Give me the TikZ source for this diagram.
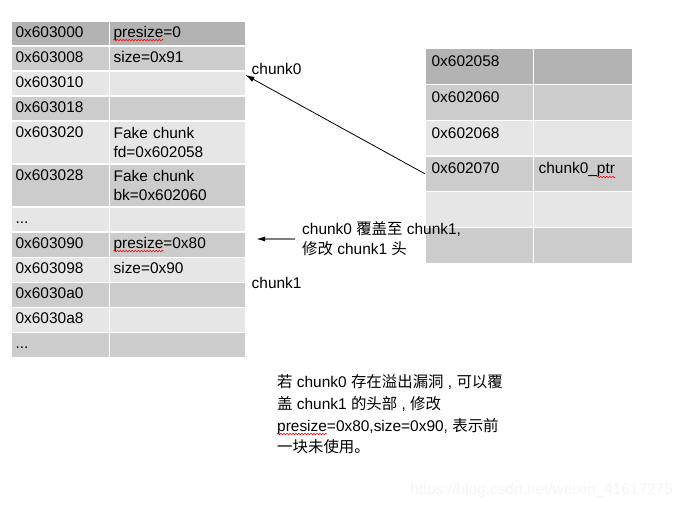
\documentclass[tikz,border=0pt]{standalone}
\usepackage{fontspec}
\setmainfont{Liberation Sans}
\newfontfamily\cjk{Noto Sans CJK SC}
\usepackage{xcolor}
\usetikzlibrary{arrows.meta,positioning,decorations.pathmorphing}

\definecolor{rowdark}{HTML}{B3B3B3}
\definecolor{rowmid}{HTML}{CCCCCC}
\definecolor{rowlight}{HTML}{E6E6E6}
\definecolor{linegray}{HTML}{7F7F7F}

% red spell-check wave under a word
\newcommand{\redwave}[1]{\tikz[baseline=(wv.base)]{\node[inner sep=0pt, anchor=base, text width=, text height=, text depth=,
      minimum width=0pt, minimum height=0pt, draw=none, fill=none] (wv) {#1};
  \draw[overlay, red, line width=0.6bp, decorate, decoration={snake, amplitude=0.8bp, segment length=3bp}]
    ([yshift=-3bp]wv.base west) -- ([yshift=-3bp]wv.base east);}}

\begin{document}
\begin{tikzpicture}[x=1bp, y=-1bp,
    font=\fontsize{15.5}{19}\selectfont,
    cell/.style={rectangle, draw=white, line width=1.2bp, fill=rowmid, anchor=north west, inner xsep=4bp, inner ysep=0pt, align=left},
    addr/.style={cell, minimum width=98bp, minimum height=25bp, text width=90bp, text height=16bp, text depth=9bp},
    value/.style={cell, minimum width=136bp, minimum height=25bp, text width=128bp, text height=16bp, text depth=9bp},
    tall/.style={minimum height=43bp, text depth=27bp},
    twoline/.style={minimum height=43bp, text height=, text depth=},
    raddr/.style={cell, minimum width=108bp, inner xsep=6bp, text width=96bp, text height=18bp, text depth=17.7bp},
    rvalue/.style={cell, minimum width=99bp, inner xsep=5bp, text width=89bp, text height=18bp, text depth=17.7bp},
    pointer/.style={-{Latex[length=9bp, width=5.5bp]}, line width=0.8bp, black},
    overarrow/.style={-{Latex[length=9bp, width=5bp, color=black]}, line width=1.3bp, draw=linegray}
]
\useasboundingbox (0,0) rectangle (689,509);

% Heap chunks
\node[addr, fill=rowdark] (a3000) at (11,20.5) {0x603000};
\node[value, fill=rowdark] (v3000) at (109,20.5) {\redwave{presize}=0};
\node[addr] (a3008) at (11,45.5) {0x603008};
\node[value] (v3008) at (109,45.5) {size=0x91};
\node[addr, fill=rowlight] (a3010) at (11,70.5) {0x603010};
\node[value, fill=rowlight] (v3010) at (109,70.5) {};
\node[addr] (a3018) at (11,95.5) {0x603018};
\node[value] (v3018) at (109,95.5) {};
\node[addr, tall, fill=rowlight] (a3020) at (11,120.5) {0x603020};
\node[value, twoline, fill=rowlight] (v3020) at (109,120.5) {Fake chunk\\fd=0x602058};
\node[addr, tall] (a3028) at (11,163.5) {0x603028};
\node[value, twoline] (v3028) at (109,163.5) {Fake chunk\\bk=0x602060};
\node[addr, fill=rowlight] (agap) at (11,206.5) {...};
\node[value, fill=rowlight] (vgap) at (109,206.5) {};
\node[addr] (a3090) at (11,231.5) {0x603090};
\node[value] (v3090) at (109,231.5) {\redwave{presize}=0x80};
\node[addr, fill=rowlight] (a3098) at (11,256.5) {0x603098};
\node[value, fill=rowlight] (v3098) at (109,256.5) {size=0x90};
\node[addr] (a30a0) at (11,281.5) {0x6030a0};
\node[value] (v30a0) at (109,281.5) {};
\node[addr, fill=rowlight] (a30a8) at (11,306.5) {0x6030a8};
\node[value, fill=rowlight] (v30a8) at (109,306.5) {};
\node[addr] (aend) at (11,331.5) {...};
\node[value] (vend) at (109,331.5) {};

% Global pointers
\node[raddr, fill=rowdark] (p2058) at (425,48.3) {0x602058};
\node[rvalue, fill=rowdark] (q2058) at (533,48.3) {};
\node[raddr] (p2060) at (425,84) {0x602060};
\node[rvalue] (q2060) at (533,84) {};
\node[raddr, fill=rowlight] (p2068) at (425,119.7) {0x602068};
\node[rvalue, fill=rowlight] (q2068) at (533,119.7) {};
\node[raddr] (p2070) at (425,155.4) {0x602070};
\node[rvalue] (q2070) at (533,155.4) {chunk0\_\redwave{ptr}};
\node[raddr, fill=rowlight] (p2078) at (425,191.1) {};
\node[rvalue, fill=rowlight] (q2078) at (533,191.1) {};
\node[raddr] (p2080) at (425,226.8) {};
\node[rvalue] (q2080) at (533,226.8) {};

% Labels
\node[anchor=base west, inner sep=0pt] (chunk0) at (251.5,75) {chunk0};
\node[anchor=base west, inner sep=0pt] (chunk1) at (251.5,288) {chunk1};
\node[anchor=west, inner xsep=7bp, inner ysep=0pt, align=left, font=\fontsize{15.5}{20}\selectfont] (overlap) at (295,239)
    {chunk0 {\cjk 覆盖至} chunk1,\\{\cjk 修改} chunk1 {\cjk 头}};
\coordinate (overtip) at (256,239);
\node[anchor=north west, inner sep=0pt, align=left, font=\fontsize{15.5}{22}\selectfont] (remark) at (277,374)
    {{\cjk 若} chunk0 {\cjk 存在溢出漏洞} , {\cjk 可以覆}\\
     {\cjk 盖} chunk1 {\cjk 的头部} , {\cjk 修改}\\
     \redwave{presize}=0x80,size=0x90, {\cjk 表示前}\\
     {\cjk 一块未使用。}};
\node[anchor=west, inner sep=0pt, text=gray!8] (mark) at (410,491) {https://blog.csdn.net/weixin\_41617275};

% Arrows
\draw[pointer] (p2070.west) -- ([xshift=-6bp]chunk0.base west);
\draw[overarrow] (overlap.west) -- (overtip);

\end{tikzpicture}
\end{document}
